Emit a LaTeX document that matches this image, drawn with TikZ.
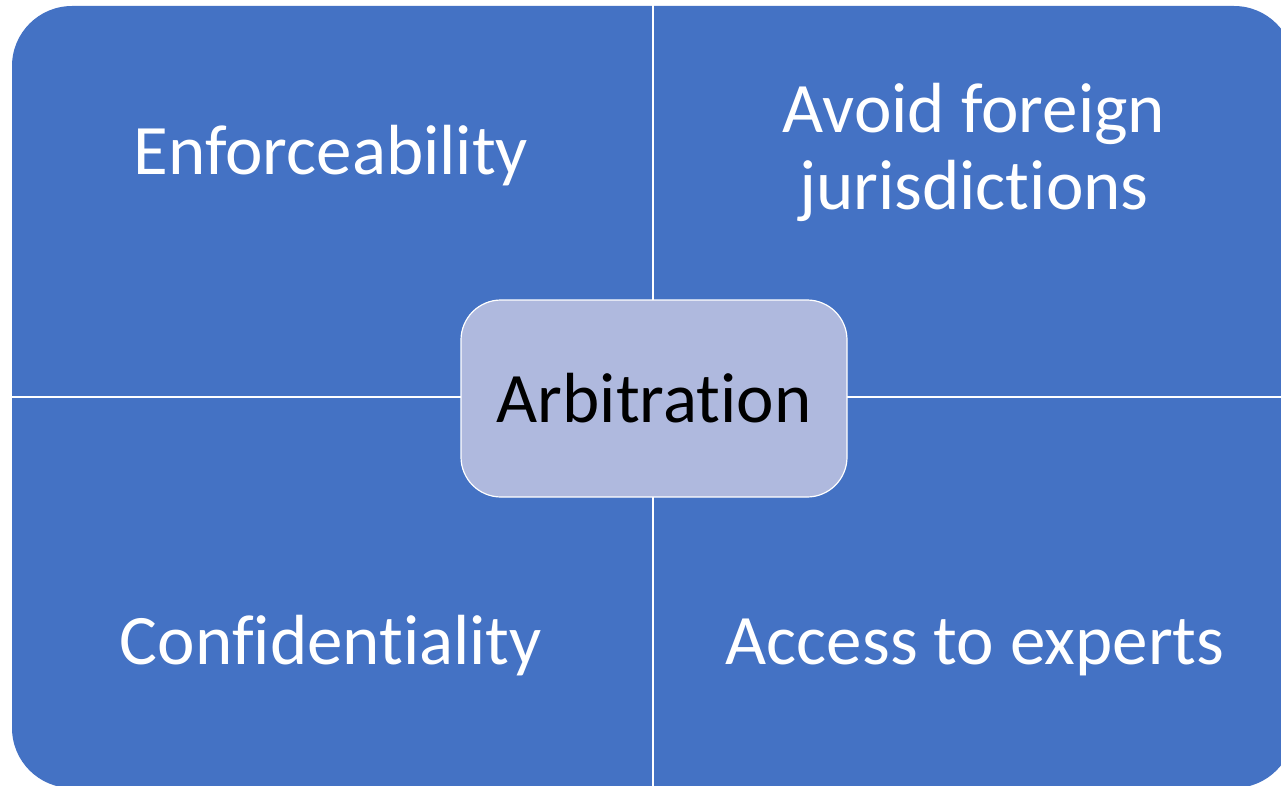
\documentclass[tikz,border=0pt]{standalone}
\usepackage{fontspec}
\setmainfont{Carlito}[RawFeature={-liga}]
\usepackage{xcolor}
\definecolor{quadblue}{HTML}{4472C4}
\definecolor{hubfill}{HTML}{AFB9DE}

\begin{document}
\begin{tikzpicture}[
    x=1pt, y=-1pt,
    quadtext/.style={text=white, font=\fontsize{71}{77}\selectfont, align=center, anchor=base, inner sep=0pt},
    hub/.style={draw=white, line width=1.2pt, fill=hubfill, rounded corners=40pt,
      minimum width=386pt, minimum height=197pt, font=\fontsize{71}{77}\selectfont, text=black}
  ]
  \useasboundingbox (0,0) rectangle (1281,786);
  \clip (0,0) rectangle (1281,786);
  % matrix background and dividers
  \fill[quadblue, rounded corners=60pt] (12,6) rectangle (1294,788);
  \draw[white, line width=1.2pt] (653,0) -- (653,786);
  \draw[white, line width=1.2pt] (0,397) -- (1281,397);
  % quadrant labels
  \node[quadtext] (enforce) at (331,175) {Enforceability};
  \node[quadtext] (avoid) at (974,210) {Avoid foreign\\jurisdictions};
  \node[quadtext] (confid) at (331,664) {Confidentiality};
  \node[quadtext] (access) at (975,664) {Access to experts};
  % centre
  \node[hub] (arbit) at (654,398.5) {Arbitration};
\end{tikzpicture}
\end{document}
